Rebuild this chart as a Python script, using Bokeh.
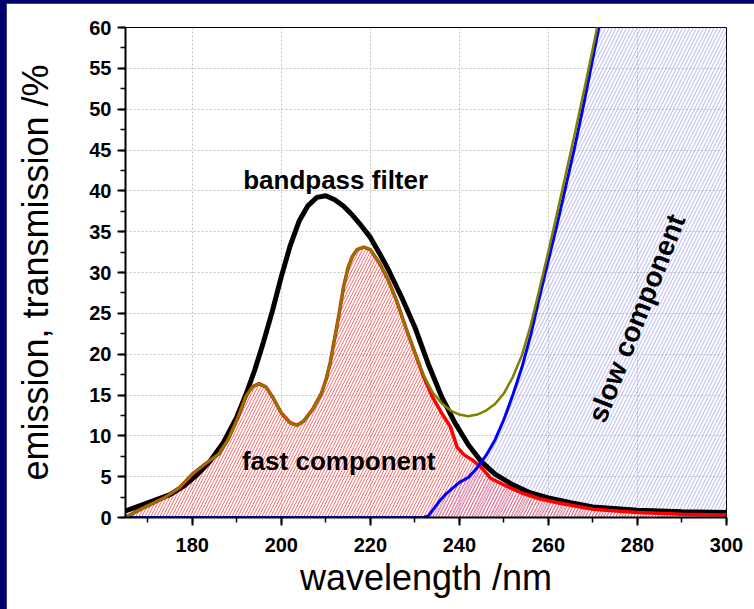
import math
from bokeh.plotting import figure
from bokeh.models import Range1d, FixedTicker, Label
from bokeh.layouts import column
from bokeh.embed import file_html
from bokeh.resources import INLINE

# ---- data ----
filter_x = [165, 170, 175, 178, 181, 184, 187, 190, 192, 194, 196, 198, 200, 202, 204, 206, 208, 210,
            212, 214, 216, 218, 220, 222, 224, 227, 230, 233, 236, 239, 242, 245, 248, 252, 256, 260,
            265, 270, 280, 290, 300]
filter_y = [0.8, 1.8, 2.8, 3.8, 5.2, 6.9, 9.2, 12.3, 15.0, 18.0, 21.5, 25.3, 29.5, 33.3, 36.3, 38.2, 39.2, 39.4,
            38.9, 38.1, 37.0, 35.7, 34.3, 32.4, 30.4, 27.0, 23.3, 18.8, 14.8, 11.6, 8.9, 6.8, 5.3, 4.0, 3.0, 2.4,
            1.8, 1.3, 0.9, 0.7, 0.6]

fast_x = [165, 168, 171, 174, 177, 180, 183, 186, 188, 190, 192, 193.5, 195, 196.5, 198, 200, 202, 203.5,
          205, 207, 209, 210, 211, 212, 213, 214, 215, 216, 217, 218.5, 220, 222, 224, 226, 228, 230, 232,
          234, 236, 238, 239.5, 241, 243, 245, 247, 250, 254, 258, 262, 266, 270, 280, 290, 300]
fast_y = [0.0, 0.9, 1.7, 2.5, 3.6, 5.3, 6.6, 7.8, 9.5, 11.9, 14.8, 16.0, 16.4, 16.0, 14.8, 12.8, 11.6, 11.3,
          11.8, 13.2, 15.2, 16.8, 19.0, 22.0, 25.0, 28.3, 30.6, 32.0, 32.8, 33.1, 32.8, 31.2, 29.1, 26.4, 23.2, 20.2, 17.2,
          14.7, 12.8, 11.1, 8.6, 7.7, 7.0, 6.1, 4.8, 4.0, 3.0, 2.3, 1.8, 1.4, 1.0, 0.6, 0.4, 0.3]

slow_x = [165, 232, 233, 234, 235.5, 237, 238.5, 240, 242, 244, 246, 248, 250, 252, 254, 256, 258, 260,
          262, 264, 266, 268, 270, 272, 280, 300]
slow_y = [0.0, 0.0, 0.2, 0.9, 2.0, 2.9, 3.6, 4.3, 4.9, 6.1, 7.6, 9.5, 12.0, 15.0, 18.3, 22.3, 27.0, 31.5,
          36.0, 40.8, 45.6, 50.8, 56.3, 61.8, 85.0, 140.0]

total_x = [165, 168, 171, 174, 177, 180, 183, 186, 188, 190, 192, 193.5, 195, 196.5, 198, 200, 202, 203.5,
           205, 207, 209, 210, 211, 212, 213, 214, 215, 216, 217, 218.5, 220, 222, 224, 226, 228, 230, 232,
           234, 236, 238, 240, 242, 244, 246, 248, 250, 252, 254, 256, 258, 260, 262, 264, 266, 268, 270, 271.5]
total_y = [0.0, 0.9, 1.7, 2.5, 3.6, 5.3, 6.6, 7.8, 9.5, 11.9, 14.8, 16.0, 16.4, 16.0, 14.8, 12.8, 11.6, 11.3,
           11.8, 13.2, 15.2, 16.8, 19.0, 22.0, 25.0, 28.3, 30.6, 32.0, 32.8, 33.1, 32.8, 31.2, 29.1, 26.4, 23.2, 20.2, 17.4,
           15.3, 14.0, 13.1, 12.6, 12.4, 12.6, 13.1, 13.9, 15.2, 17.2, 19.8, 23.5, 28.0, 32.6, 37.4, 42.3, 47.2, 52.3, 57.5, 61.5]

x_ticks = [180, 200, 220, 240, 260, 280, 300]
x_minor = [170, 180, 190, 200, 210, 220, 230, 240, 250, 260, 270, 280, 290, 300]
y_ticks = [0, 5, 10, 15, 20, 25, 30, 35, 40, 45, 50, 55, 60]
y_minor = [i * 2.5 for i in range(25)]

FONT = "Liberation Sans"

p = figure(width=748, height=606, output_backend="svg", toolbar_location=None,
           x_range=Range1d(165, 300), y_range=Range1d(0, 60),
           min_border_left=119, min_border_right=28, min_border_top=24, min_border_bottom=92)
p.margin = (3, 0, 0, 6)
p.background_fill_color = "white"
p.border_fill_color = "white"
p.outline_line_color = "black"
p.outline_line_width = 1

# axes
p.xaxis.ticker = FixedTicker(ticks=x_ticks, minor_ticks=x_minor)
p.yaxis.ticker = FixedTicker(ticks=y_ticks, minor_ticks=y_minor)
p.xgrid.ticker = FixedTicker(ticks=x_ticks)
p.ygrid.ticker = FixedTicker(ticks=y_ticks)
for g in (p.xgrid, p.ygrid):
    g.grid_line_color = "#c4c4c4"
    g.grid_line_dash = "2 2"
    g.grid_line_width = 1

for ax in (p.xaxis, p.yaxis):
    ax.axis_line_width = 2
    ax.axis_line_color = "black"
    ax.major_tick_line_width = 2
    ax.major_tick_line_color = "black"
    ax.major_tick_out = 8
    ax.major_tick_in = 0
    ax.minor_tick_line_width = 1.5
    ax.minor_tick_line_color = "black"
    ax.minor_tick_out = 5
    ax.minor_tick_in = 0
    ax.major_label_text_font = FONT
    ax.major_label_text_font_style = "bold"
    ax.major_label_text_font_size = "20px"
    ax.major_label_text_color = "black"
    ax.axis_label_text_font = FONT
    ax.axis_label_text_font_style = "normal"
    ax.axis_label_text_color = "black"

p.xaxis.axis_label = "wavelength /nm"
p.yaxis.axis_label = "emission, transmission /%"
p.xaxis.axis_label_text_font_size = "36px"
p.yaxis.axis_label_text_font_size = "36px"
p.xaxis.major_label_standoff = 12
p.yaxis.major_label_standoff = 6
p.xaxis.axis_label_standoff = 2
p.yaxis.axis_label_standoff = 30

# hatched areas
p.varea(x=slow_x, y1=0, y2=slow_y, fill_alpha=0, hatch_pattern="/",
        hatch_color="#7a7aee", hatch_alpha=0.55, hatch_scale=7, hatch_weight=1)
p.varea(x=fast_x, y1=0, y2=fast_y, fill_alpha=0, hatch_pattern="/",
        hatch_color="#ff3030", hatch_alpha=0.7, hatch_scale=6, hatch_weight=1)

# curves
p.line(filter_x, filter_y, line_color="black", line_width=5)
p.line(fast_x, fast_y, line_color="#ff0000", line_width=3.5)
p.line(slow_x, slow_y, line_color="#0000ff", line_width=3)
p.line(total_x, total_y, line_color="#808000", line_width=2.5)

# labels
common = dict(text_font=FONT, text_font_style="bold",
              text_color="black", text_align="center", text_baseline="middle")
p.add_layout(Label(x=212.2, y=41.3, text="bandpass filter", text_font_size="26px", **common))
p.add_layout(Label(x=212.9, y=6.9, text="fast component", text_font_size="26px", **common))
p.add_layout(Label(x=279.8, y=24.4, text="slow component", text_font_size="28px",
                   angle=math.radians(68.5), **common))

layout = column(p, styles={"background-color": "#00006b"}, margin=0)

open("out.html", "w").write(file_html(layout, INLINE))
